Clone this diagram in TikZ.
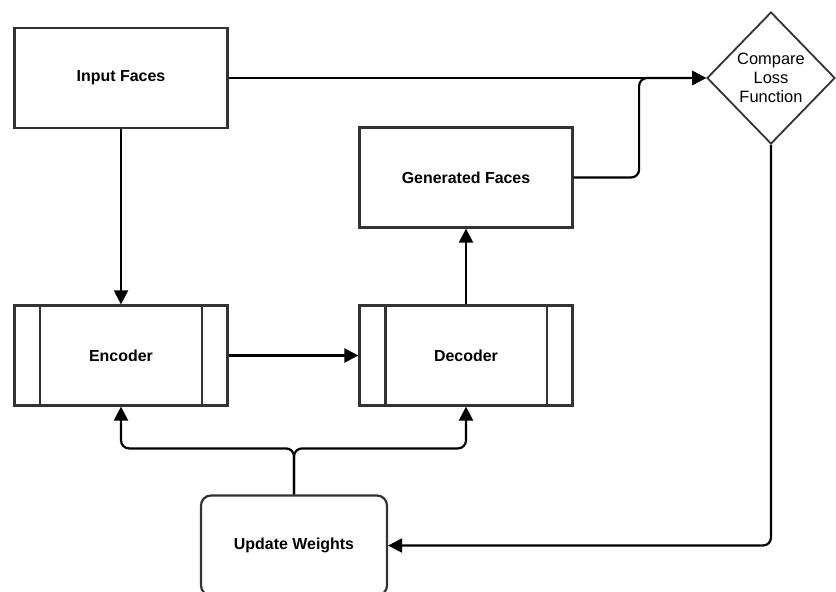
\documentclass[tikz,border=0pt]{standalone}
\usepackage{fontspec}
\setmainfont{Liberation Sans}
\usetikzlibrary{arrows.meta,shapes.geometric,positioning}

\tikzset{
  box/.style={draw=black!80, line width=2.2bp, rectangle, minimum width=213bp,
    minimum height=100bp, inner sep=0pt, font=\fontsize{16}{19}\selectfont\bfseries},
  decision/.style={draw=black!80, line width=1.8bp, diamond, minimum width=128bp,
    minimum height=132bp, inner sep=0pt, align=center, font=\fontsize{16.5}{19}\selectfont},
  arr/.style={draw=black, line width=2.2bp, -{Triangle[length=14bp,width=14bp]}},
}

\begin{document}
\begin{tikzpicture}[x=1bp,y=-1bp]
  \useasboundingbox (0,0) rectangle (836,592);

  \node[box]  (input) at (121,78)    {Input Faces};
  \node[box]  (enc)   [below of=input, node distance=277.5bp] {Encoder};
  \node[box]  (dec)   [right of=enc, node distance=345bp]     {Decoder};
  \node[box]  (gen)   [above of=dec, node distance=178bp]     {Generated Faces};
  \node[box, rounded corners=10bp, minimum width=186bp] (upd) at (294,545.5) {Update Weights};
  \node[decision] (cmp) at (771,78) {Compare\\Loss\\Function};

  % side bars of the process boxes
  \foreach \n in {enc,dec}{
    \draw[draw=black!80, line width=2.2bp]
      ([xshift=27bp]\n.north west) -- ([xshift=27bp]\n.south west)
      ([xshift=-27bp]\n.north east) -- ([xshift=-27bp]\n.south east);
  }

  \coordinate (split) at ([yshift=46bp]upd.north);

  \draw[arr] (input.east) -- (cmp.west);
  \draw[arr, rounded corners=8bp] (gen.east) -| ([xshift=-67bp]cmp.west) -- (cmp.west);
  \draw[arr] (input) -- (enc);
  \draw[arr] (enc) -- (dec);
  \draw[arr] (dec) -- (gen);
  \draw[arr, rounded corners=8bp] (cmp.south) |- (upd.east);
  \draw[arr, rounded corners=8bp] (upd.north) -- (split) -| (enc.south);
  \draw[arr, rounded corners=8bp] (upd.north) -- (split) -| (dec.south);
\end{tikzpicture}
\end{document}
